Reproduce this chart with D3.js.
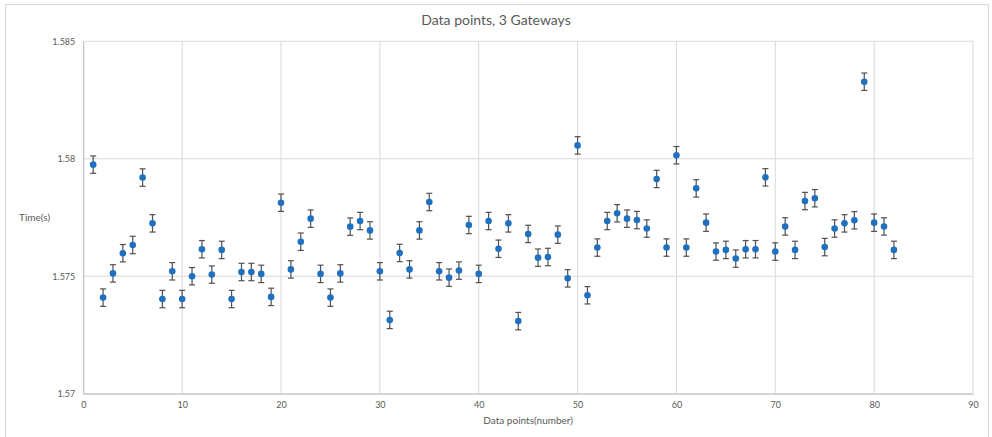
<!DOCTYPE html>
<html>
<head>
<meta charset="utf-8">
<script src="https://cdn.jsdelivr.net/npm/d3@7"></script>
<style>
  body { margin: 0; background: #fff; }
  text { font-family: Lato, "Open Sans", sans-serif; fill: #595959; }
</style>
</head>
<body>
<div id="chart"></div>
<script>
// Data
const pointIndex = d3.range(1, 83);
const timeValues = [
  1.57975, 1.57409, 1.57512, 1.57598, 1.57633, 1.57920, 1.57725, 1.57403, 1.57521, 1.57403,
  1.57500, 1.57615, 1.57507, 1.57612, 1.57403, 1.57518, 1.57518, 1.57510, 1.57412, 1.57813,
  1.57529, 1.57647, 1.57745, 1.57510, 1.57409, 1.57512, 1.57711, 1.57735, 1.57695, 1.57521,
  1.57314, 1.57599, 1.57529, 1.57695, 1.57816, 1.57521, 1.57494, 1.57524, 1.57718, 1.57510,
  1.57735, 1.57617, 1.57725, 1.57309, 1.57680, 1.57579, 1.57582, 1.57677, 1.57491, 1.58057,
  1.57419, 1.57622, 1.57735, 1.57768, 1.57745, 1.57739, 1.57703, 1.57914, 1.57622, 1.58015,
  1.57622, 1.57874, 1.57728, 1.57605, 1.57612, 1.57575, 1.57615, 1.57615, 1.57921, 1.57605,
  1.57712, 1.57612, 1.57820, 1.57832, 1.57624, 1.57703, 1.57725, 1.57738, 1.58328, 1.57728,
  1.57712, 1.57612
];
const errorMargin = 0.00037;
const xTicks = [0, 10, 20, 30, 40, 50, 60, 70, 80, 90];
const yTicks = [1.57, 1.575, 1.58, 1.585];
const chartTitle = "Data points, 3 Gateways";
const xTitle = "Data points(number)";
const yTitle = "Time(s)";

const W = 992, H = 437;
const margin = { top: 41.3, right: 19, bottom: 43.3, left: 83.3 };
const width = W - margin.left - margin.right;
const height = H - margin.top - margin.bottom;

const data = pointIndex.map((x, i) => ({ x, y: timeValues[i] }));

const svg = d3.select('#chart').append('svg')
  .attr('width', W)
  .attr('height', H);

// outer chart border
svg.append('rect')
  .attr('x', 5.5).attr('y', 4.5)
  .attr('width', 983).attr('height', 440)
  .attr('fill', 'none')
  .attr('stroke', '#d9d9d9');

const g = svg.append('g')
  .attr('transform', `translate(${margin.left},${margin.top})`);

const xScale = d3.scaleLinear().domain([0, 90]).range([0, width]);
const yScale = d3.scaleLinear().domain([1.57, 1.585]).range([height, 0]);

// gridlines
g.append('g')
  .selectAll('line')
  .data(xTicks)
  .join('line')
  .attr('x1', d => xScale(d)).attr('x2', d => xScale(d))
  .attr('y1', 0).attr('y2', height)
  .attr('stroke', '#d9d9d9').attr('stroke-width', 1);

g.append('g')
  .selectAll('line')
  .data(yTicks)
  .join('line')
  .attr('x1', 0).attr('x2', width)
  .attr('y1', d => yScale(d)).attr('y2', d => yScale(d))
  .attr('stroke', '#d9d9d9').attr('stroke-width', 1);

// axes
const xAxis = g.append('g')
  .attr('transform', `translate(0,${height})`)
  .call(d3.axisBottom(xScale).tickValues(xTicks).tickSize(0).tickPadding(8));
xAxis.select('.domain').attr('stroke', '#bfbfbf');
xAxis.selectAll('text').style('font-size', '9px').attr('fill', '#595959');

const yAxis = g.append('g')
  .call(d3.axisLeft(yScale).tickValues(yTicks).tickSize(0).tickPadding(8)
    .tickFormat(d => d3.format('')(+d.toFixed(3))));
yAxis.select('.domain').attr('stroke', '#bfbfbf');
yAxis.selectAll('text').style('font-size', '9px').attr('fill', '#595959');

// error bars
const bars = g.append('g')
  .selectAll('g')
  .data(data)
  .join('g')
  .attr('stroke', '#505050')
  .attr('stroke-width', 1.2);

bars.append('line')
  .attr('x1', d => xScale(d.x)).attr('x2', d => xScale(d.x))
  .attr('y1', d => yScale(d.y - errorMargin))
  .attr('y2', d => yScale(d.y + errorMargin));
bars.append('line')
  .attr('x1', d => xScale(d.x) - 3).attr('x2', d => xScale(d.x) + 3)
  .attr('y1', d => yScale(d.y - errorMargin))
  .attr('y2', d => yScale(d.y - errorMargin));
bars.append('line')
  .attr('x1', d => xScale(d.x) - 3).attr('x2', d => xScale(d.x) + 3)
  .attr('y1', d => yScale(d.y + errorMargin))
  .attr('y2', d => yScale(d.y + errorMargin));

// points
g.append('g')
  .selectAll('circle')
  .data(data)
  .join('circle')
  .attr('cx', d => xScale(d.x))
  .attr('cy', d => yScale(d.y))
  .attr('r', 3.3)
  .attr('fill', '#1f70c1');

// titles
svg.append('text')
  .attr('x', W / 2).attr('y', 25)
  .attr('text-anchor', 'middle')
  .style('font-size', '14px')
  .text(chartTitle);

svg.append('text')
  .attr('x', margin.left + width / 2).attr('y', 424)
  .attr('text-anchor', 'middle')
  .style('font-size', '10px')
  .text(xTitle);

svg.append('text')
  .attr('x', 19).attr('y', margin.top + height / 2 + 3)
  .style('font-size', '10px')
  .text(yTitle);
</script>
</body>
</html>
